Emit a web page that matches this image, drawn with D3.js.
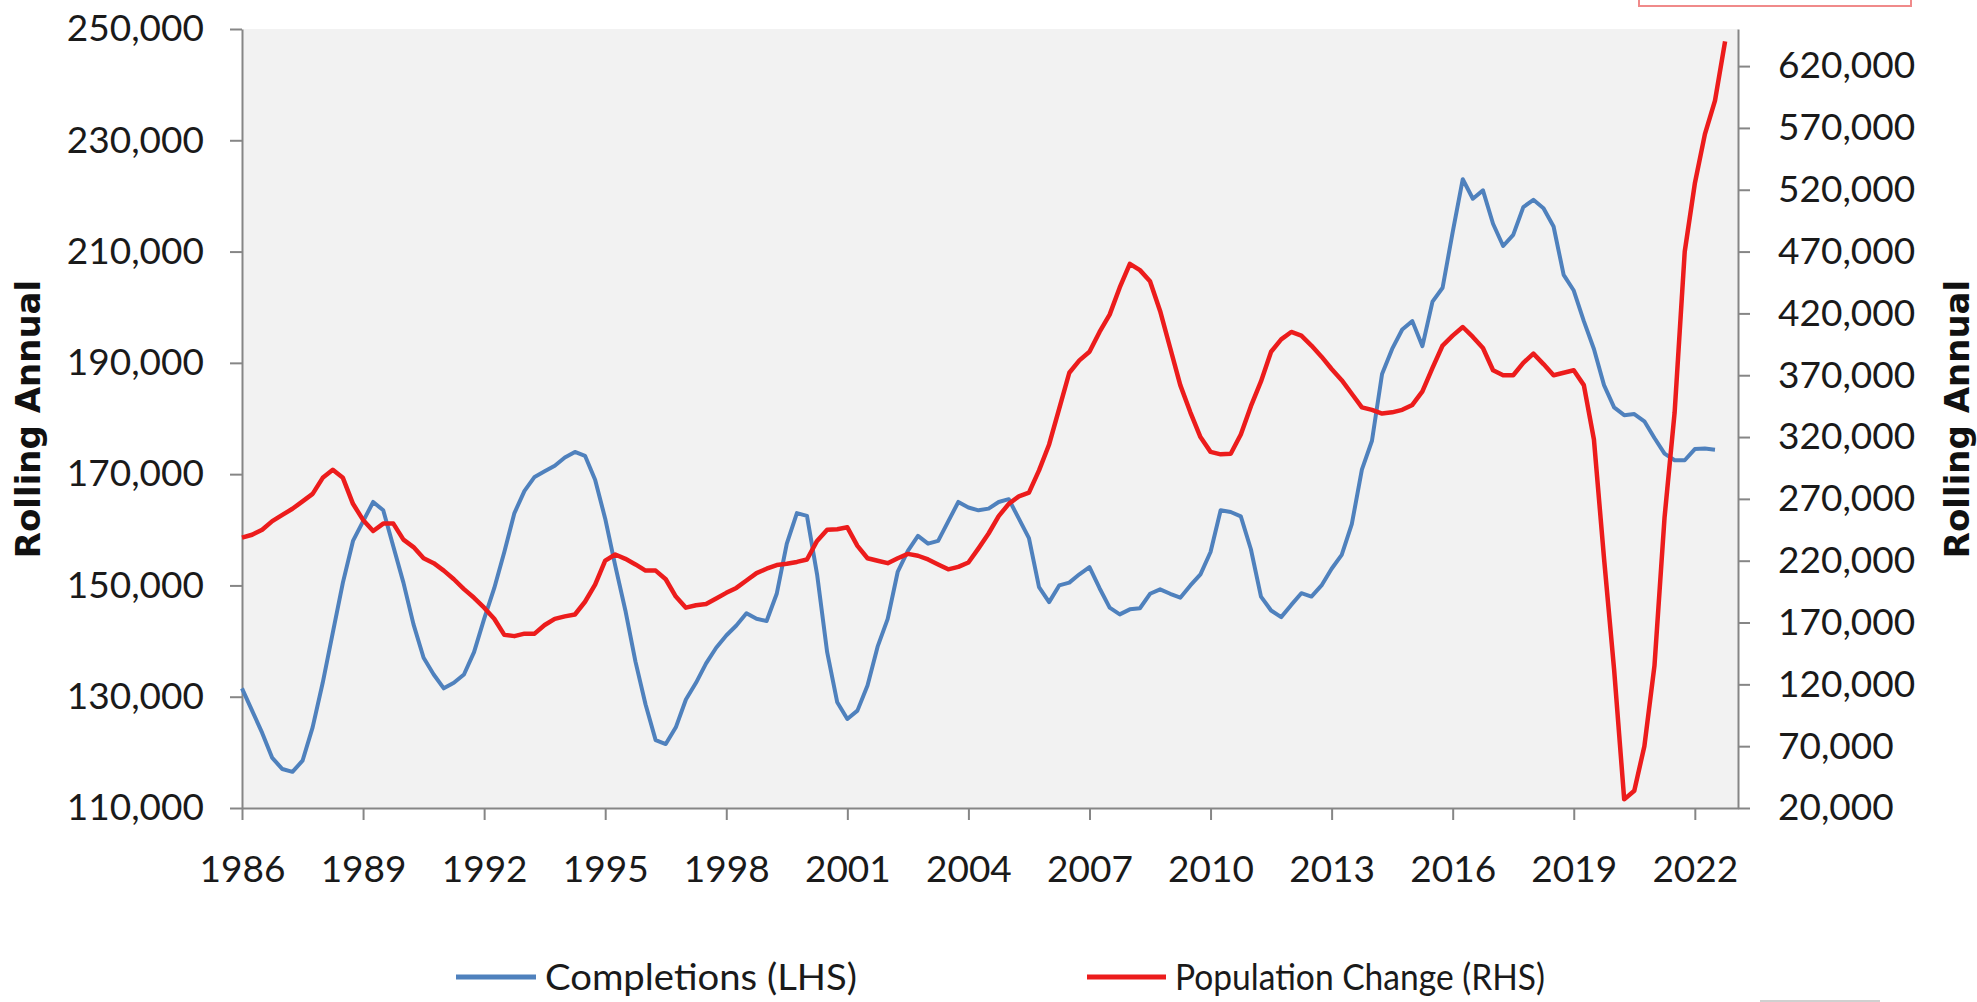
<!DOCTYPE html>
<html>
<head>
<meta charset="utf-8">
<script src="https://cdn.jsdelivr.net/npm/d3@7"></script>
<style>
  html, body { margin: 0; padding: 0; background: #ffffff; }
  svg { display: block; }
</style>
</head>
<body>
<svg id="chart" width="1977" height="1002"></svg>
<script>
// ---- data (quarterly, rolling annual) ----
const startYear = 1986;
const yearTicks = [1986, 1989, 1992, 1995, 1998, 2001, 2004, 2007, 2010, 2013, 2016, 2019, 2022];
const leftTicks = [110000, 130000, 150000, 170000, 190000, 210000, 230000, 250000];
const rightTicks = [20000, 70000, 120000, 170000, 220000, 270000, 320000, 370000, 420000, 470000, 520000, 570000, 620000];
const seriesNames = ["Completions (LHS)", "Population Change (RHS)"];

// Completions (LHS), thousands, 1986Q1 ..
const completions = [
  131.5,127.5,123.5,119,117,116.5,118.5,124.5,132.5,141.5,
  150.5,158,161.5,165,163.5,157,150.5,143,137,134,
  131.5,132.5,134,138,144,149.5,156,163,167,169.5,
  170.5,171.5,173,174,173.3,169,162,153.5,145.5,136.3,
  128.6,122.2,121.5,124.5,129.5,132.5,136,138.8,141,142.8,
  145,144,143.6,148.5,157.5,163,162.5,152,138,129,
  126,127.5,132,139,144,152.5,156.2,158.9,157.5,158,
  161.5,165,164,163.5,163.8,165,165.5,162,158.5,149.7,
  147,150,150.5,152,153.3,149.5,146,144.8,145.7,145.9,
  148.5,149.3,148.5,147.8,150,152,156,163.5,163.2,162.4,
  156.5,148,145.5,144.3,146.5,148.6,148,150,153,155.5,
  161,170.8,176,188,192.5,196,197.5,193,201,203.5,
  213.5,223,219.5,221,215,211,213,218,219.3,217.8,
  214.5,205.8,203,197.5,192.5,186,182,180.6,180.8,179.5,
  176.5,173.7,172.5,172.5,174.5,174.6,174.4
];
// Population Change (RHS), thousands, 1986Q1 ..
const population = [
  238.6,241,245,252,257,262,268,274,287,293.5,
  287,266,253,244,250,250,237,231,222,218,
  212,205,197,190,182,173,160,159,161,161,
  168,173,175,176.5,186.8,200.6,220,225,221.5,217,
  212,212,205,191,182,184,185,189.5,194,198,
  204,210,213.5,216.5,217.5,219,221,236,245,245.5,
  247,232,222,220,218,222,225.5,224,221,217,
  213,215,218.5,230,242,256,266,272,275,293,
  314,343,372,382,389,405,419,441,460,455,
  446,422,392,362,340,320,308,306,306.5,322,
  345,365,389,399,405,402,394,385,375,366,
  355,344,342,339,340,342,346,357,376,394,
  402,409,401,392,374,370,370,380,387.5,379,
  370,372,374,362,318,222,132,27,34,70,
  135,255,340,470,525,565,592,640
];

// ---- layout ----
const plot = { left: 242, right: 1738, top: 29, bottom: 808 };
const blue = "#4f81bd";
const red = "#ec1c1c";
const axisColor = "#868686";
const tickFont = "Lato, 'Open Sans', sans-serif";

const svg = d3.select("#chart");

const x = d3.scaleLinear().domain([1986, 2023.07]).range([plot.left, plot.right]);
const yL = d3.scaleLinear().domain([110000, 250000]).range([plot.bottom, plot.top]);
const yR = d3.scaleLinear().domain([20000, 650000]).range([plot.bottom, plot.top]);

// plot background
svg.append("rect")
  .attr("x", plot.left).attr("y", plot.top)
  .attr("width", plot.right - plot.left).attr("height", plot.bottom - plot.top)
  .attr("fill", "#f2f2f2");

const fmt = d3.format(",");

// left axis
const gL = svg.append("g").attr("transform", `translate(${plot.left},0)`)
  .call(d3.axisLeft(yL).tickValues(leftTicks).tickFormat(fmt).tickSize(12).tickSizeOuter(0).tickPadding(26));
// right axis
const gR = svg.append("g").attr("transform", `translate(${plot.right},0)`)
  .call(d3.axisRight(yR).tickValues(rightTicks).tickFormat(fmt).tickSize(12).tickSizeOuter(0).tickPadding(28));
// bottom axis
const gB = svg.append("g").attr("transform", `translate(0,${plot.bottom})`)
  .call(d3.axisBottom(x).tickValues(yearTicks).tickFormat(d3.format("d")).tickSize(12).tickSizeOuter(0).tickPadding(36));

[gL, gR, gB].forEach(g => {
  g.select(".domain").attr("stroke", axisColor).attr("stroke-width", 2);
  g.selectAll(".tick line").attr("stroke", axisColor).attr("stroke-width", 2);
  g.selectAll(".tick text").attr("fill", "#1a1a1a")
    .style("font-family", tickFont).style("font-size", "37px");
});

// lines
const lineL = d3.line().x((d, i) => x(startYear + i / 4)).y(d => yL(d * 1000));
const lineR = d3.line().x((d, i) => x(startYear + i / 4)).y(d => yR(d * 1000));

svg.append("path").datum(completions)
  .attr("d", lineL).attr("fill", "none").attr("stroke", blue)
  .attr("stroke-width", 4).attr("stroke-linejoin", "round");
svg.append("path").datum(population)
  .attr("d", lineR).attr("fill", "none").attr("stroke", red)
  .attr("stroke-width", 4.5).attr("stroke-linejoin", "round");

// axis titles
const titleFont = "'DejaVu Sans', sans-serif";
svg.append("text").attr("transform", "translate(40,419) rotate(-90)")
  .attr("text-anchor", "middle").style("font-family", titleFont)
  .style("font-weight", "bold").style("font-size", "34px").attr("fill", "#111")
  .text("Rolling Annual");
svg.append("text").attr("transform", "translate(1969,419) rotate(-90)")
  .attr("text-anchor", "middle").style("font-family", titleFont)
  .style("font-weight", "bold").style("font-size", "34px").attr("fill", "#111")
  .text("Rolling Annual");

// legend
const legendItems = [
  { name: seriesNames[0], color: blue, x0: 456, x1: 536, tx: 545, len: 312 },
  { name: seriesNames[1], color: red, x0: 1087, x1: 1166, tx: 1175, len: 370 }
];
const lg = svg.append("g");
legendItems.forEach(it => {
  lg.append("line").attr("x1", it.x0).attr("x2", it.x1).attr("y1", 977).attr("y2", 977)
    .attr("stroke", it.color).attr("stroke-width", 5);
  lg.append("text").attr("x", it.tx).attr("y", 977).attr("dy", "0.35em")
    .attr("textLength", it.len).attr("lengthAdjust", "spacingAndGlyphs")
    .style("font-family", tickFont).style("font-size", "37px").attr("fill", "#1a1a1a")
    .text(it.name);
});

// decorative fragments at the edges of the screenshot
svg.append("rect").attr("x", 1639).attr("y", -20).attr("width", 272).attr("height", 26)
  .attr("fill", "none").attr("stroke", "#f08a8a").attr("stroke-width", 2);
svg.append("line").attr("x1", 1760).attr("x2", 1880).attr("y1", 1001).attr("y2", 1001)
  .attr("stroke", "#d0d0d0").attr("stroke-width", 2);
</script>
</body>
</html>
